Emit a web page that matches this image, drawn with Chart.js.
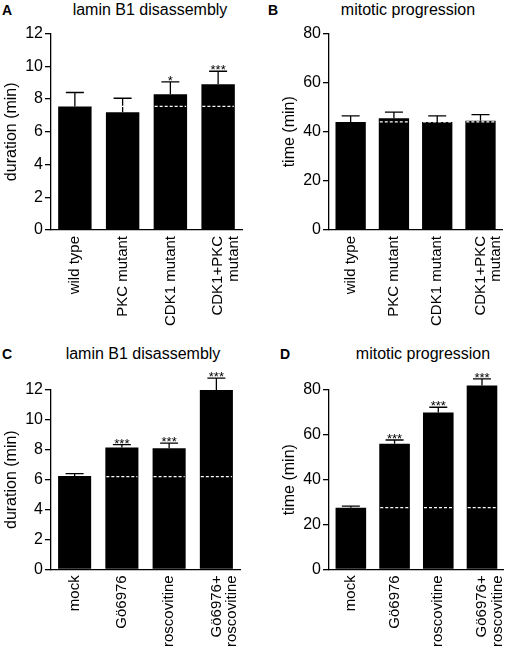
<!DOCTYPE html>
<html><head><meta charset="utf-8">
<script src="https://cdn.jsdelivr.net/npm/chart.js@4"></script>
<style>
body{margin:0;width:520px;height:653px;background:#fff;position:relative;font-family:"Liberation Sans",Arial,sans-serif;overflow:hidden}
.letter{position:absolute;font-weight:bold;font-size:14px}
.title{position:absolute;font-size:16px;text-align:center;width:220px}
canvas{position:absolute}
</style></head><body>
<div class="letter" style="left:2px;top:2px">A</div>
<div class="title" style="left:40px;top:1px">lamin B1 disassembly</div>
<div class="letter" style="left:268px;top:2px">B</div>
<div class="title" style="left:298px;top:1px">mitotic progression</div>
<div class="letter" style="left:2px;top:346px">C</div>
<div class="title" style="left:33px;top:345px">lamin B1 disassembly</div>
<div class="letter" style="left:280px;top:346px">D</div>
<div class="title" style="left:313px;top:345px">mitotic progression</div>
<div style="position:absolute;left:0;top:22px;width:260px;height:310px"><canvas id="cA"></canvas></div>
<div style="position:absolute;left:260px;top:22px;width:260px;height:310px"><canvas id="cB"></canvas></div>
<div style="position:absolute;left:0;top:368px;width:260px;height:285px"><canvas id="cC"></canvas></div>
<div style="position:absolute;left:260px;top:368px;width:260px;height:285px"><canvas id="cD"></canvas></div>
<script>
// top row categories and values
var mutantLabels = ['wild type', 'PKC mutant', 'CDK1 mutant', ['CDK1+PKC', 'mutant']];
var laminMut = [7.55, 7.2, 8.3, 8.9];
var laminMutErr = [0.85, 0.85, 0.75, 0.8];
var laminMutStars = ['', '', '*', '***'];
var laminMutBase = 7.55;
var mitoMut = [44, 45.5, 44, 44.5];
var mitoMutErr = [2.5, 2.5, 2.5, 2.5];
var mitoMutStars = ['', '', '', ''];
var mitoMutBase = 44;
// bottom row
var drugLabels = ['mock', 'Gö6976', 'roscovitine', ['Gö6976+', 'roscovitine']];
var laminDrug = [6.25, 8.15, 8.1, 12];
var laminDrugErr = [0.15, 0.2, 0.35, 0.8];
var laminDrugStars = ['', '***', '***', '***'];
var laminDrugBase = 6.2;
var mitoDrug = [27.5, 56, 70, 82];
var mitoDrugErr = [0.7, 1.7, 2.3, 3];
var mitoDrugStars = ['', '***', '***', '***'];
var mitoDrugBase = 27.5;

var fam = '"Liberation Sans", Arial, sans-serif';

var extras = {
    id: 'extras',
    afterDatasetsDraw: function(chart){
        var ctx = chart.ctx, o = chart.options.plugins.extras;
        var meta = chart.getDatasetMeta(0), y = chart.scales.y;
        meta.data.forEach(function(bar, i){
            var v = o.values[i], top = y.getPixelForValue(v + o.errs[i]);
            var yv = y.getPixelForValue(v);
            ctx.save();
            ctx.strokeStyle = '#000'; ctx.lineWidth = 1.3;
            ctx.beginPath();
            ctx.moveTo(bar.x, yv); ctx.lineTo(bar.x, top);
            ctx.moveTo(bar.x - 9, top); ctx.lineTo(bar.x + 9, top);
            ctx.stroke();
            if(i > 0){
                var by = y.getPixelForValue(o.base);
                ctx.strokeStyle = '#fff'; ctx.setLineDash([3, 2]);
                ctx.beginPath();
                ctx.moveTo(bar.x - bar.width / 2 + 1, by); ctx.lineTo(bar.x + bar.width / 2 - 1, by);
                ctx.stroke();
            }
            if(o.stars[i]){
                ctx.fillStyle = '#000'; ctx.font = '13px ' + fam;
                ctx.textAlign = 'center'; ctx.textBaseline = 'bottom';
                ctx.fillText(o.stars[i], bar.x, top + 6);
            }
            ctx.restore();
        });
    }
};

function makeChart(id, labels, values, errs, stars, base, max, step, ytitle, pad){
    new Chart(document.getElementById(id), {
        type: 'bar',
        data: {labels: labels, datasets: [{data: values, backgroundColor: '#000', barPercentage: 0.7, categoryPercentage: 1, clip: false}]},
        options: {
            responsive: true, maintainAspectRatio: false, animation: false,
            layout: {padding: pad},
            plugins: {legend: {display: false}, tooltip: {enabled: false},
                extras: {values: values, errs: errs, stars: stars, base: base}},
            scales: {
                x: {grid: {display: false, drawTicks: false}, border: {color: '#000', width: 1.3},
                    ticks: {color: '#000', font: {family: fam, size: 15, lineHeight: 1.05}, minRotation: 90, maxRotation: 90, padding: 6}},
                y: {min: 0, max: max, grid: {drawOnChartArea: false, color: '#000', tickLength: 6, lineWidth: 1.3},
                    border: {color: '#000', width: 1.3},
                    ticks: {stepSize: step, color: '#000', font: {family: fam, size: 16}, padding: 2},
                    title: {display: true, text: ytitle, color: '#000', font: {family: fam, size: 16}, padding: 2}}
            }
        },
        plugins: [extras]
    });
}
makeChart('cA', mutantLabels, laminMut, laminMutErr, laminMutStars, laminMutBase, 12, 2, 'duration (min)', {top: 8, right: 18, left: 0});
makeChart('cB', mutantLabels, mitoMut, mitoMutErr, mitoMutStars, mitoMutBase, 80, 20, 'time (min)', {top: 8, right: 16, left: 18});
makeChart('cC', drugLabels, laminDrug, laminDrugErr, laminDrugStars, laminDrugBase, 12, 2, 'duration (min)', {top: 22, right: 20, left: 0});
makeChart('cD', drugLabels, mitoDrug, mitoDrugErr, mitoDrugStars, mitoDrugBase, 80, 20, 'time (min)', {top: 22, right: 4, left: 18});
</script>
</body></html>
